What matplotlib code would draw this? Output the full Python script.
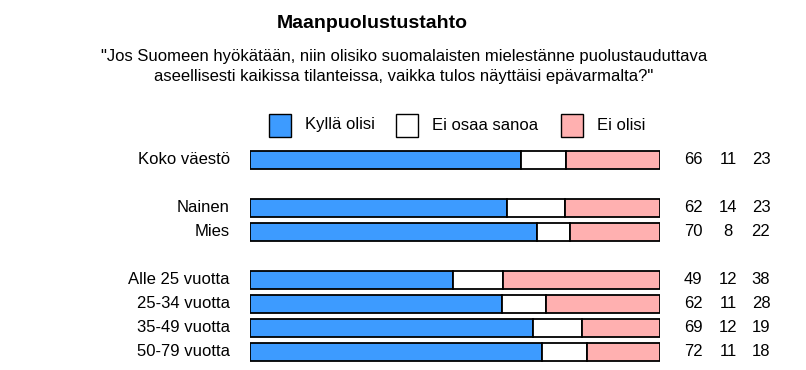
import matplotlib.pyplot as plt
from matplotlib.patches import Rectangle

plt.rcParams['font.family'] = ['Liberation Sans', 'DejaVu Sans']

# Data
groups = ["Koko väestö", "Nainen", "Mies", "Alle 25 vuotta", "25-34 vuotta", "35-49 vuotta", "50-79 vuotta"]
slots = [0, 2, 3, 5, 6, 7, 8]
kylla = [66, 62, 70, 49, 62, 69, 72]
eos = [11, 14, 8, 12, 11, 12, 11]
ei = [23, 23, 22, 38, 28, 19, 18]
series_names = ["Kyllä olisi", "Ei osaa sanoa", "Ei olisi"]
colors = ["#3D9BFF", "#FFFFFF", "#FFB0B0"]

W, H = 806, 370
fig = plt.figure(figsize=(W / 100, H / 100), dpi=100)

# axes placed in pixel space: bars from x=250 to 660, slots centred at 160 + 24*i
ax = fig.add_axes([250 / W, 1 - 364 / H, 410 / W, 216 / H])
ax.set_xlim(0, 100)
ax.set_ylim(8.5, -0.5)
ax.axis("off")

for i, g in enumerate(groups):
    vals = [kylla[i], eos[i], ei[i]]
    tot = sum(vals)
    left = 0
    for v, c in zip(vals, colors):
        w = v / tot * 100
        ax.barh(slots[i], w, left=left, height=0.71, color=c, edgecolor="black", linewidth=1.3)
        left += w
    ax.annotate(g, xy=(0, slots[i]), xycoords=("axes fraction", "data"),
                xytext=(-20, 0), textcoords="offset pixels", ha="right", va="center", fontsize=12)
    for v, off in zip(vals, [33, 68, 101]):
        ax.annotate(str(v), xy=(1, slots[i]), xycoords=("axes fraction", "data"),
                    xytext=(off, 0), textcoords="offset pixels", ha="center", va="center", fontsize=12)

# title and question
fig.text(372 / W, 1 - 23 / H, "Maanpuolustustahto", ha="center", va="center",
         fontsize=14, fontweight="bold")
fig.text(404 / W, 1 - 57 / H, "\"Jos Suomeen hyökätään, niin olisiko suomalaisten mielestänne puolustauduttava",
         ha="center", va="center", fontsize=12)
fig.text(404 / W, 1 - 77 / H, "aseellisesti kaikissa tilanteissa, vaikka tulos näyttäisi epävarmalta?\"",
         ha="center", va="center", fontsize=12)

# legend
for x0, name, c in zip([269, 396, 561], series_names, colors):
    fig.add_artist(Rectangle((x0 / W, 1 - 137 / H), 22 / W, 23 / H, transform=fig.transFigure,
                             facecolor=c, edgecolor="black", linewidth=1))
    fig.text((x0 + 36) / W, 1 - 125 / H, name, ha="left", va="center", fontsize=12)

fig.savefig("out.png", dpi=100)
